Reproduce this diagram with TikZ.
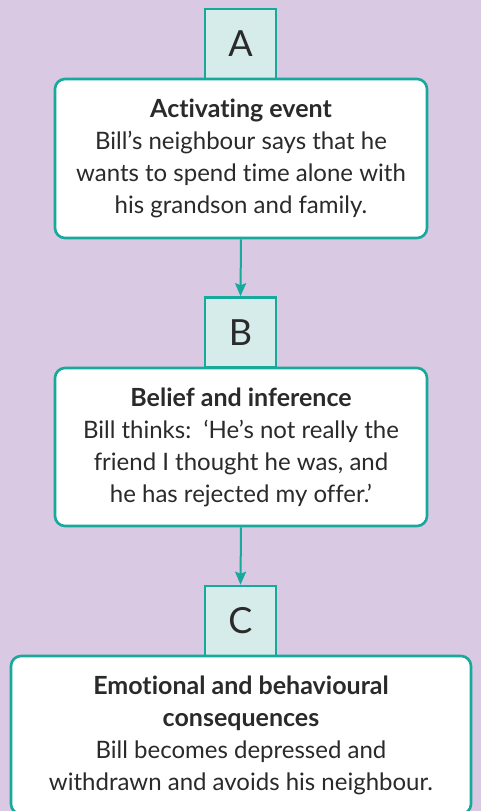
\documentclass[tikz,border=0pt]{standalone}
\usepackage{fontspec}
\setmainfont{Lato}[Ligatures=NoCommon]
\usetikzlibrary{arrows.meta}
\definecolor{bgc}{HTML}{D9C9E3}
\definecolor{teal}{HTML}{16A99C}
\definecolor{sqfill}{HTML}{D6ECEA}
\definecolor{txt}{HTML}{2A2A2A}
\newcommand{\hd}[1]{{\fontsize{25}{32}\selectfont\textbf{#1}}}
\begin{document}
\begin{tikzpicture}[x=1pt,y=-1pt,
  letterbox/.style={draw=teal, line width=2.6pt, fill=sqfill, minimum width=71pt, minimum height=70pt, inner sep=0pt, text=txt, font=\fontsize{36}{40}\selectfont},
  mainbox/.style={draw=teal, line width=2.6pt, fill=white, rounded corners=10pt, inner sep=0pt, align=center, text=txt, font=\fontsize{24}{32}\selectfont},
  conn/.style={draw=teal, line width=2pt, -{Stealth[length=13pt,width=11pt,inset=2pt]}}
]
\useasboundingbox (0,0) rectangle (481,811);
\fill[bgc] (0,0) rectangle (481,811);
\begin{scope}
\clip (0,0) rectangle (481,811);
\node[letterbox] (sa) at (240.5,44) {A};
\node[mainbox, minimum width=372pt, minimum height=159pt] (ba) at (241,158.5) {\hd{Activating event}\\Bill’s neighbour says that he\\wants to spend time alone with\\his grandson and family.};
\node[letterbox] (sb) at (240.5,332.5) {B};
\node[mainbox, minimum width=372pt, minimum height=158pt] (bb) at (241,447) {\hd{Belief and inference}\\Bill thinks:\ \ ‘He’s not really the\\friend I thought he was, and\\he has rejected my offer.’};
\node[letterbox] (sc) at (240.5,621) {C};
\node[mainbox, minimum width=460pt, minimum height=158pt] (bc) at (241,735) {\hd{Emotional and behavioural}\\\hd{consequences}\\Bill becomes depressed and\\withdrawn and avoids his neighbour.};
\draw[conn] (ba.south) -- (sb.north);
\draw[conn] (bb.south) -- (sc.north);
\end{scope}
\end{tikzpicture}
\end{document}
